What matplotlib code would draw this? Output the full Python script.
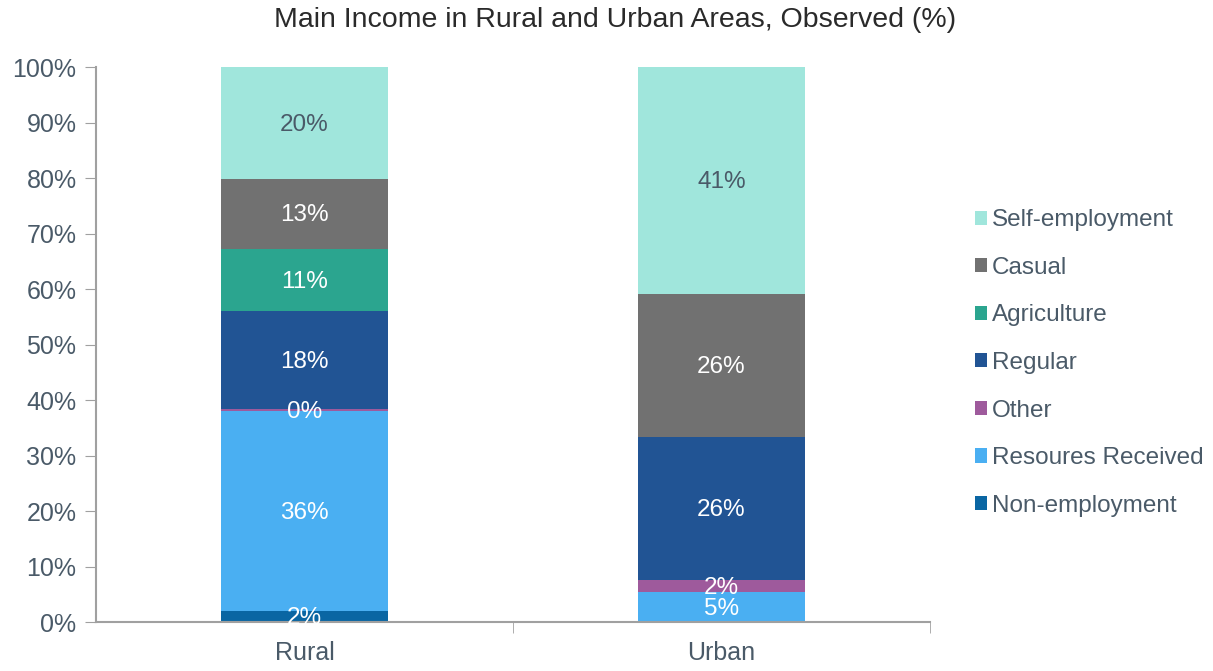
import matplotlib
matplotlib.use("Agg")
import matplotlib.pyplot as plt
import numpy as np

plt.rcParams['font.family'] = ['Liberation Sans', 'DejaVu Sans']

areas = ['Rural', 'Urban']
series = ['Non-employment', 'Resoures Received', 'Other', 'Regular',
          'Agriculture', 'Casual', 'Self-employment']
non_employment = [2.0, 0.0]
resources_received = [36.0, 5.4]
other = [0.4, 2.2]
regular = [17.6, 25.7]
agriculture = [11.3, 0.0]
casual = [12.6, 25.8]
self_employment = [20.1, 40.9]

values = [non_employment, resources_received, other, regular,
          agriculture, casual, self_employment]
colors = ['#0a66a3', '#4aaff2', '#9e5a9c', '#215494',
          '#2ba58f', '#717171', '#a0e6dc']
label_colors = ['white'] * 6 + ['#4a5a68']
text_color = '#4a5a68'

fig = plt.figure(figsize=(12.13, 6.71), dpi=100)
ax = fig.add_axes([0.0791, 0.073, 0.6876, 0.827])

x = np.arange(len(areas))
bottom = np.zeros(len(areas))
handles = []
for name, vals, col, lcol in zip(series, values, colors, label_colors):
    vals = np.array(vals)
    bars = ax.bar(x, vals, 0.4, bottom=bottom, color=col, label=name)
    handles.append(bars)
    for xi, v, b in zip(x, vals, bottom):
        if v > 0:
            ax.text(xi, b + v / 2 - 0.3, f'{v:.0f}%', ha='center', va='center',
                    color=lcol, fontsize=17.5)
    bottom += vals

ax.set_xlim(-0.5, 1.5)
ax.set_ylim(0, 100)
ax.set_yticks(np.arange(0, 101, 10))
ax.set_yticklabels([f'{t}%' for t in range(0, 101, 10)])
ax.set_xticks(x)
ax.set_xticklabels(areas)
ax.set_xticks([0.5, 1.5], minor=True)
ax.tick_params(axis='x', which='major', length=0, pad=14)
ax.tick_params(axis='x', which='minor', length=8, color='#a0a0a0')
ax.tick_params(axis='y', length=8, color='#a0a0a0', pad=6)
ax.tick_params(labelsize=18, labelcolor=text_color)
for s in ['top', 'right']:
    ax.spines[s].set_visible(False)
ax.spines['left'].set_color('#a0a0a0')
ax.spines['bottom'].set_color('#a0a0a0')
ax.spines['left'].set_linewidth(1.5)
ax.spines['bottom'].set_linewidth(1.5)

fig.suptitle('Main Income in Rural and Urban Areas, Observed (%)',
             x=0.507, y=0.99, fontsize=20.5, color='#2a2a2a')

leg = fig.legend(handles[::-1], series[::-1], loc='center left',
                 bbox_to_anchor=(0.7954, 0.459), frameon=False, fontsize=17.5,
                 labelspacing=1.05, handlelength=0.52, handleheight=0.52,
                 handletextpad=0.2, borderaxespad=0, labelcolor=text_color)

fig.savefig('out.png', dpi=100)
